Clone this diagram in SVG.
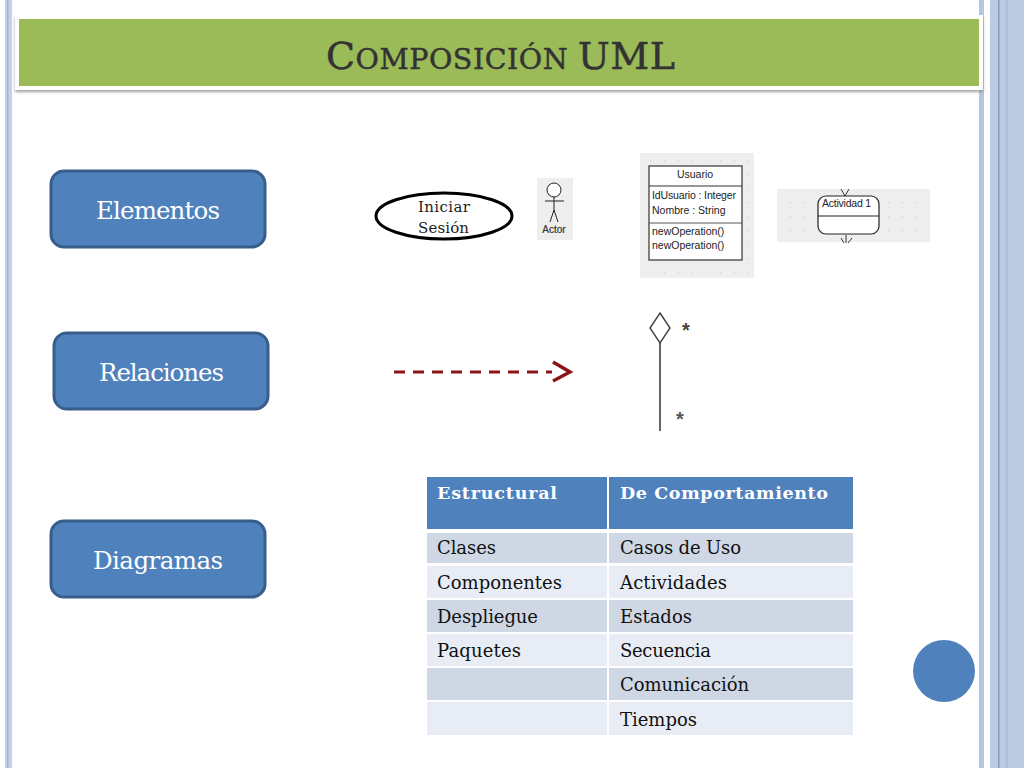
<svg xmlns="http://www.w3.org/2000/svg" width="1024" height="768" viewBox="0 0 1024 768">
<defs>
<style>
.lbl{font-family:"DejaVu Serif","Liberation Serif",serif;font-size:24.5px;fill:#fff}
.node{fill:#4f81bd;stroke:#385d8a;stroke-width:3}
.cell{font-family:"DejaVu Serif","Liberation Serif",serif;font-size:18px;fill:#111}
.head{font-family:"DejaVu Serif","Liberation Serif",serif;font-size:17.5px;font-weight:bold;fill:#fff}
.ui{font-family:"Liberation Sans",sans-serif;font-size:10.5px;fill:#222}
.dark{fill:#cfd7e5}.light{fill:#e8ecf4}
</style>
<filter id="sh" x="-2%" y="-10%" width="104%" height="125%"><feDropShadow dx="0" dy="2" stdDeviation="1.5" flood-color="#777" flood-opacity="0.7"/></filter>
<pattern id="dots" width="14" height="14" patternUnits="userSpaceOnUse"><rect width="14" height="14" fill="#eeeeee"/><rect x="6" y="6" width="1.4" height="1.4" fill="#d8d8d8"/></pattern>
</defs>
<rect width="1024" height="768" fill="#fff"/>
<g id="background">
<rect x="5" y="0" width="7" height="768" fill="#c5d2e8"/>
<rect x="7" y="0" width="1.5" height="768" fill="#9fb4d6"/>
<rect x="979" y="0" width="5" height="768" fill="#b8c7e0"/>
<rect x="990" y="0" width="34" height="768" fill="#bccae2"/>
<rect x="998" y="0" width="1.5" height="768" fill="#7f9cc6"/>
<rect x="1006" y="0" width="1.5" height="768" fill="#a9bbd8"/>
</g>
<g id="title">
<rect x="15" y="15" width="968" height="75" fill="#fff" filter="url(#sh)"/>
<rect x="19" y="19" width="960" height="67" fill="#9bbb59"/>
<text x="326" y="69" textLength="349" font-family="DejaVu Serif,Liberation Serif,serif" font-size="38" fill="#333" stroke="#333" stroke-width="0.5"><tspan>C</tspan><tspan font-size="28.5">OMPOSICIÓN </tspan><tspan>UML</tspan></text>
</g>
<g id="connectors">
<g id="dependency">
<path d="M394 372H552" fill="none" stroke="#8c1414" stroke-width="3.2" stroke-dasharray="11 8"/>
<path d="M553 362L570 372L553 381" fill="none" stroke="#8c1414" stroke-width="3.4"/>
</g>
<g id="aggregation">
<path d="M660 343V431" fill="none" stroke="#666" stroke-width="2"/>
<path d="M660 313L670 328L660 343L650 328Z" fill="#fff" stroke="#444" stroke-width="1.5"/>
<text x="686" y="337" text-anchor="middle" font-family="Liberation Sans,sans-serif" font-weight="bold" font-size="20" fill="#444">*</text>
<text x="680" y="426" text-anchor="middle" font-family="Liberation Sans,sans-serif" font-weight="bold" font-size="20" fill="#555">*</text>
</g>
</g>
<g id="elementos"><rect class="node" x="51" y="171" width="214" height="76" rx="13"/><text class="lbl" x="96" y="219" textLength="124">Elementos</text></g>
<g id="relaciones"><rect class="node" x="54" y="333" width="214" height="76" rx="13"/><text class="lbl" x="99" y="381" textLength="125">Relaciones</text></g>
<g id="diagramas"><rect class="node" x="51" y="521" width="214" height="76" rx="13"/><text class="lbl" x="93" y="569" textLength="130">Diagramas</text></g>
<g id="usecase">
<ellipse cx="444" cy="216" rx="68" ry="23" fill="#fff" stroke="#000" stroke-width="3"/>
<text x="418" y="212" textLength="52" font-family="DejaVu Serif,Liberation Serif,serif" font-size="15" fill="#222">Iniciar</text>
<text x="418" y="233" textLength="51" font-family="DejaVu Serif,Liberation Serif,serif" font-size="15" fill="#222">Sesión</text>
</g>
<g id="actor">
<rect x="537" y="178" width="36" height="62" fill="#eeeeee"/>
<g fill="none" stroke="#222" stroke-width="1"><circle cx="554" cy="190" r="7" fill="#fff"/><path d="M554 197V210M545 201H564M554 210L550 222M554 210L558 222"/></g>
<text x="554" y="233" text-anchor="middle" font-family="Liberation Sans,sans-serif" font-size="10" fill="#333" stroke="#333" stroke-width="0.2">Actor</text>
</g>
<g id="class">
<rect x="640" y="153" width="114" height="125" fill="url(#dots)"/>
<rect x="649" y="166" width="93" height="94" fill="#fff" stroke="#333" stroke-width="1.2"/>
<path d="M649 186H742" stroke="#333" stroke-width="1.2"/><path d="M649 223H742" stroke="#555" stroke-width="1"/>
<text class="ui" x="695" y="178" text-anchor="middle">Usuario</text>
<text class="ui" x="652" y="199" textLength="84">IdUsuario : Integer</text>
<text class="ui" x="652" y="214">Nombre : String</text>
<text class="ui" x="652" y="235">newOperation()</text>
<text class="ui" x="652" y="249">newOperation()</text>
</g>
<g id="activity">
<rect x="777" y="189" width="153" height="53" fill="url(#dots)"/>
<path d="M841 189L845 196L849 189M841 238L844 243M846 235V243M852 238L848 243" fill="none" stroke="#333" stroke-width="1"/>
<rect x="818" y="196" width="61" height="38" rx="8" fill="#fff" stroke="#222" stroke-width="1.2"/>
<path d="M818 216H879" stroke="#222" stroke-width="1.2"/>
<text class="ui" x="822" y="207" textLength="49">Actividad 1</text>
</g>
<g id="table">
<rect x="427" y="477" width="180" height="52" fill="#4f81bd"/><rect x="609" y="477" width="244" height="52" fill="#4f81bd"/>
<rect class="dark" x="427" y="533" width="180" height="30"/><rect class="dark" x="609" y="533" width="244" height="30"/>
<rect class="light" x="427" y="566" width="180" height="32"/><rect class="light" x="609" y="566" width="244" height="32"/>
<rect class="dark" x="427" y="600" width="180" height="32"/><rect class="dark" x="609" y="600" width="244" height="32"/>
<rect class="light" x="427" y="634" width="180" height="32"/><rect class="light" x="609" y="634" width="244" height="32"/>
<rect class="dark" x="427" y="668" width="180" height="32"/><rect class="dark" x="609" y="668" width="244" height="32"/>
<rect class="light" x="427" y="702" width="180" height="33"/><rect class="light" x="609" y="702" width="244" height="33"/>
<text class="head" x="437" y="499" textLength="120">Estructural</text>
<text class="head" x="620" y="499" textLength="208">De Comportamiento</text>
<text class="cell" x="437" y="554" textLength="59">Clases</text><text class="cell" x="620" y="554" textLength="121">Casos de Uso</text>
<text class="cell" x="437" y="589" textLength="125">Componentes</text><text class="cell" x="620" y="589" textLength="107">Actividades</text>
<text class="cell" x="437" y="623" textLength="101">Despliegue</text><text class="cell" x="620" y="623" textLength="72">Estados</text>
<text class="cell" x="437" y="657" textLength="84">Paquetes</text><text class="cell" x="620" y="657" textLength="91">Secuencia</text>
<text class="cell" x="620" y="691" textLength="129">Comunicación</text>
<text class="cell" x="620" y="726" textLength="77">Tiempos</text>
</g>
<g id="page-circle"><circle cx="944" cy="671" r="31" fill="#4f81bd"/></g>
</svg>
